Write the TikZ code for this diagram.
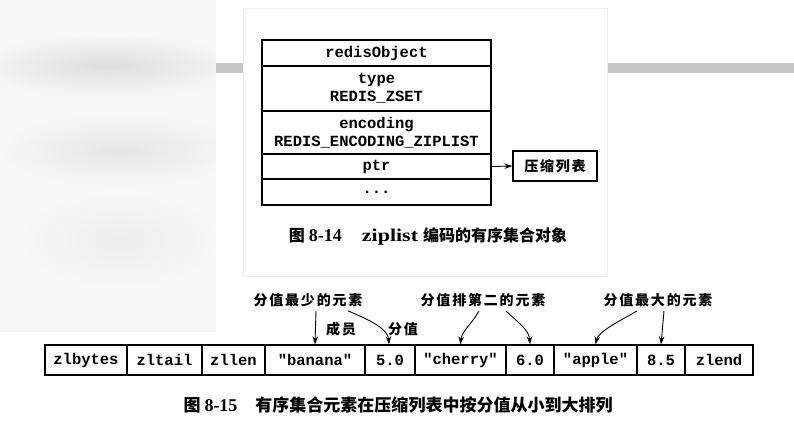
\documentclass[tikz,border=0pt]{standalone}
\usepackage{fontspec}
\usepackage{graphicx}
\setmainfont{Liberation Serif}
\setmonofont{Liberation Mono}
\newfontfamily\cjk{Noto Sans CJK SC}
\newfontfamily\cjklab{Noto Sans CJK SC}[LetterSpace=13]
\usetikzlibrary{arrows.meta}
\begin{document}
\begin{tikzpicture}[x=1bp,y=-1bp,
  mono/.style={font=\fontsize{15.5bp}{18bp}\selectfont\ttfamily\bfseries},
  rowbox/.style={draw, line width=1.3bp, minimum width=229bp, inner sep=0pt, mono, align=center},
  cell/.style={draw, line width=1.3bp, minimum height=30bp, inner sep=0pt, mono},
  lab/.style={font=\fontsize{14bp}{16bp}\selectfont\cjklab\bfseries, inner sep=1bp},
  arr/.style={-{Stealth[length=8bp,width=5.5bp]}, line width=0.9bp},
  captext/.style={inner sep=0pt}
]
\useasboundingbox (0,0) rectangle (794,422);
% background decorations
\fill[white] (0,0) rectangle (794,422);
\begin{scope}
\clip (0,0) rectangle (216,332);
\fill[gray!6] (0,0) rectangle (216,332);
\shade[inner color=gray!26, outer color=gray!6] (108,66) ellipse (140 and 32);
\shade[inner color=gray!20, outer color=gray!6] (120,150) ellipse (125 and 38);
\shade[inner color=gray!14, outer color=gray!6] (120,240) ellipse (105 and 50);
\end{scope}
\fill[gray!45] (216,63) rectangle (243,73);
\fill[gray!45] (607,63) rectangle (794,73);
\fill[white] (243,8) rectangle (607,276);
\draw[gray!12, line width=1bp] (243,8) rectangle (607,276);

% redisObject table
\node[rowbox, minimum height=26bp] (r1) at (376.5,53) {redisObject};
\node[rowbox, minimum height=45bp] (r2) at (376.5,88.5) {type\\REDIS\_ZSET};
\node[rowbox, minimum height=43bp] (r3) at (376.5,132.5) {encoding\\REDIS\_ENCODING\_ZIPLIST};
\node[rowbox, minimum height=25bp] (r4) at (376.5,166.5) {ptr};
\node[rowbox, minimum height=26bp] (r5) at (376.5,192) {...};
\node[draw, line width=1.3bp, minimum width=84bp, minimum height=30bp, inner sep=0pt, lab] (zl) at (555,166) {压缩列表};
\draw[arr] (r4.east) -- (zl.west);

\node[captext] (cap1) at (428,236) {{\fontsize{16bp}{18bp}\selectfont\cjk\bfseries 图}\hspace{4bp}{\fontsize{18bp}{18bp}\selectfont\bfseries 8-14}\hspace{20bp}{\fontsize{18bp}{18bp}\selectfont\bfseries\scalebox{1.22}[1]{ziplist}}\hspace{5bp}{\fontsize{16bp}{18bp}\selectfont\cjk\bfseries 编码的有序集合对象}};

% ziplist cells
\node[cell, minimum width=82bp] (c1) at (86,360) {zlbytes};
\node[cell, minimum width=75bp] (c2) at (164.5,360) {zltail};
\node[cell, minimum width=63bp] (c3) at (233.5,360) {zllen};
\node[cell, minimum width=100bp] (c4) at (315,360) {"banana"};
\node[cell, minimum width=50bp] (c5) at (390,360) {5.0};
\node[cell, minimum width=91bp] (c6) at (460.5,360) {"cherry"};
\node[cell, minimum width=48bp] (c7) at (530,360) {6.0};
\node[cell, minimum width=83bp] (c8) at (595.5,360) {"apple"};
\node[cell, minimum width=48bp] (c9) at (661,360) {8.5};
\node[cell, minimum width=68bp] (c10) at (719,360) {zlend};

% labels
\node[lab] (l1) at (308,300) {分值最少的元素};
\node[lab] (l2) at (483,300) {分值排第二的元素};
\node[lab] (l3) at (658,300) {分值最大的元素};
\node[lab] (m1) at (341,329) {成员};
\node[lab] (s1) at (403,329) {分值};

\draw[arr] ([xshift=8bp,yshift=-3bp]l1.south) -- (c4.north);
\draw[arr] ([xshift=40bp,yshift=-3bp]l1.south) .. controls +(24,10) and +(-1,-15) .. ([xshift=-1bp]c5.north);
\draw[arr] ([xshift=-4bp,yshift=-3bp]l2.south) .. controls +(-7,13) and +(1,-13) .. (c6.north);
\draw[arr] ([xshift=23bp,yshift=-3bp]l2.south) .. controls +(10,10) and +(-1,-15) .. (c7.north);
\draw[arr] ([xshift=-21bp,yshift=-3bp]l3.south) .. controls +(-17,10) and +(3,-13) .. (c8.north);
\draw[arr] ([xshift=6bp,yshift=-3bp]l3.south) -- (c9.north);

\node[captext] (cap2) at (398,405) {{\fontsize{17bp}{18bp}\selectfont\cjk\bfseries 图}\hspace{4bp}{\fontsize{18bp}{18bp}\selectfont\bfseries 8-15}\hspace{18bp}{\fontsize{17bp}{18bp}\selectfont\cjk\bfseries 有序集合元素在压缩列表中按分值从小到大排列}};
\end{tikzpicture}
\end{document}
